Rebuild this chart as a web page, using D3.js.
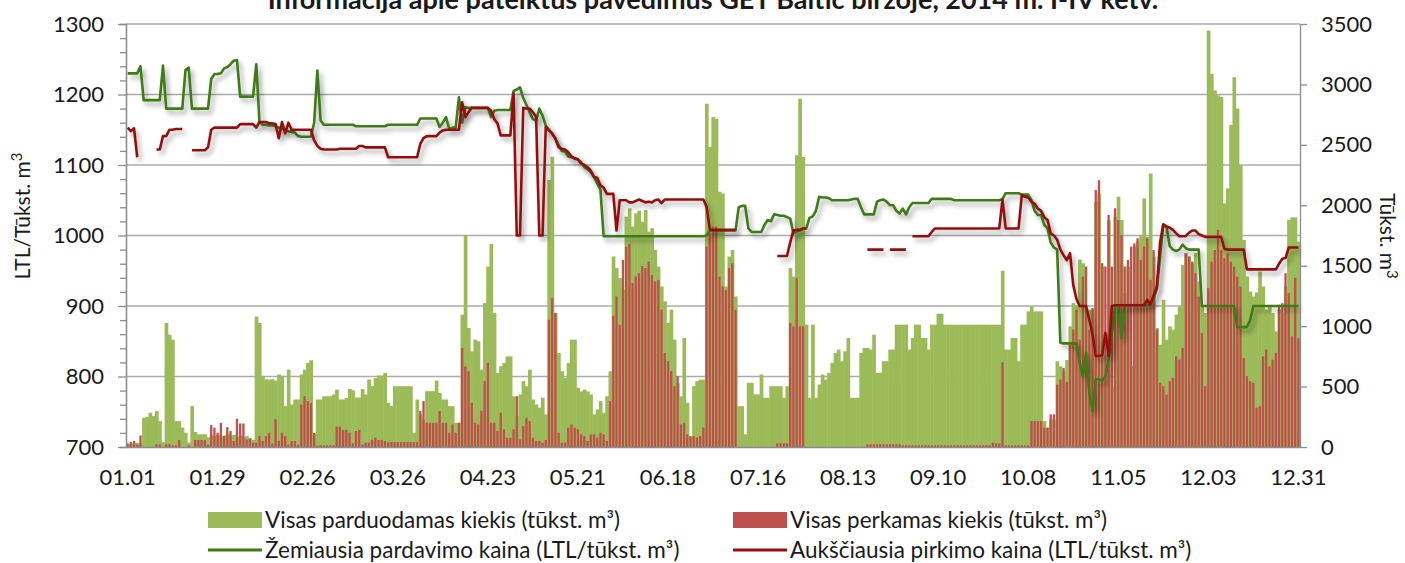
<!DOCTYPE html>
<html>
<head>
<meta charset="utf-8">
<script src="https://cdn.jsdelivr.net/npm/d3@7"></script>
<style>
  body { margin: 0; background: #fff; }
  text { font-family: Lato, "Open Sans", sans-serif; fill: #1a1a1a; }
</style>
</head>
<body>
<svg id="chart" width="1405" height="563"></svg>
<script>
// daily values, 2014-01-01 .. 2014-12-31
var sellVol = [
  20,25,30,35,30,242,250,283,256,297,
  214,40,1026,930,888,214,214,160,118,36,
  338,124,105,105,105,80,95,90,100,85,
  95,110,90,100,85,95,80,90,75,60,
  1080,1026,586,560,558,560,550,600,590,338,
  640,352,393,393,600,640,696,718,110,393,
  393,420,420,420,435,475,393,393,405,480,
  470,410,410,480,435,558,503,570,591,591,
  613,366,338,503,503,503,503,503,503,118,
  393,270,228,462,462,462,550,448,393,393,
  338,338,200,200,1095,1755,985,792,888,875,
  640,1190,1493,1680,1108,613,668,696,750,750,
  420,256,435,545,503,640,393,352,325,407,
  270,2210,2400,1110,778,627,572,696,888,888,
  490,460,475,460,435,270,310,380,283,420,
  627,1576,1480,1397,1300,1906,1975,1823,1933,1955,
  1864,1960,1782,1810,1630,1493,1328,1205,1026,1136,
  888,531,420,902,366,90,503,545,558,558,
  2840,2483,2730,2717,2112,2098,1328,1576,1630,1246,
  338,338,105,531,531,435,435,600,407,407,
  503,503,503,503,407,503,1480,1410,2414,2882,
  2400,1012,407,1012,407,517,600,558,613,696,
  778,806,710,792,902,407,407,407,778,820,
  820,806,930,613,613,710,710,806,806,1012,
  1012,1012,1012,806,902,1012,1012,902,902,806,
  1012,1012,1103,1103,1012,1012,1012,1012,1012,1012,
  1012,1012,1012,1012,1012,1012,1012,1012,1012,1012,
  1012,1012,1458,806,806,902,902,710,1012,1012,
  1122,1163,1122,1122,1122,214,160,228,228,710,
  668,627,720,998,1190,1170,1551,1520,1136,1136,
  1136,2030,2098,1493,765,1878,500,1906,2071,1878,
  1273,1493,670,1658,1700,1755,2057,1740,2263,1576,
  985,847,1218,888,998,971,1095,1163,1507,1603,
  1576,1521,1603,1370,1177,1108,3446,3088,2950,2910,
  2896,2016,2140,2664,3060,2800,2332,1713,1411,1287,
  1246,1279,1452,1328,1136,1163,1108,957,1136,1108,
  1328,1878,1900,1900,1700
];

var buyVol = [
  30,41,50,20,96,0,0,0,0,22,
  22,0,22,22,14,14,58,0,0,14,
  0,58,58,58,58,20,182,160,118,200,
  90,165,132,50,234,195,195,63,68,36,
  36,90,50,90,118,30,228,50,118,90,
  20,50,50,20,352,420,380,365,118,10,
  14,14,14,14,14,168,168,140,140,118,
  30,132,140,20,36,36,60,77,58,58,
  50,40,41,41,41,41,41,41,41,41,
  41,297,380,200,200,200,200,297,200,200,
  118,187,118,200,820,668,627,366,200,187,
  300,545,696,200,200,132,283,146,77,77,
  146,420,63,173,242,214,77,50,50,36,
  58,1053,1232,1108,118,36,36,160,187,160,
  146,105,90,50,105,105,77,118,105,50,
  380,1086,1246,1012,1548,1658,1680,1356,1410,1438,
  1498,1480,1534,1424,1369,1383,1136,778,710,627,
  503,586,187,200,105,90,90,77,90,160,
  1658,1768,1823,1823,1410,1328,1300,1480,1521,1136,
  0,0,0,0,0,0,0,0,0,0,
  0,0,30,30,30,30,1026,998,1397,998,
  998,0,0,0,0,0,0,0,0,0,
  0,0,0,0,0,0,0,0,0,0,
  22,22,22,22,22,22,22,22,22,22,
  22,14,14,14,14,14,14,14,14,14,
  14,14,14,14,14,14,14,14,14,14,
  14,14,14,14,14,14,14,14,14,36,
  30,30,701,14,14,14,14,14,14,14,
  14,214,214,214,214,160,160,270,270,517,
  558,655,540,847,971,1136,888,1410,1493,971,
  1150,2126,2208,1521,1493,1920,1493,1975,1878,1755,
  1493,1548,1658,1685,1727,1548,1658,1727,1383,1630,
  971,531,503,434,545,572,750,723,820,1603,
  1576,1534,1438,1246,943,503,1314,1534,1630,1796,
  1630,1562,1603,1534,1493,1411,1328,737,586,545,
  531,325,338,750,806,668,723,778,1177,1190,
  1438,1273,916,1400,900
];

var sellPrice = [
  1230,1230,1230,1230,1240,1192,1192,1192,1192,1192,
  1192,1241,1180,1180,1180,1180,1180,1180,1235,1238,
  1180,1180,1180,1180,1180,1180,1222,1229,1229,1230,
  1237,1239,1243,1248,1249,1197,1197,1197,1197,1197,
  1243,1161,1157,1157,1156,1156,1155,1153,1151,1150,
  1148,1147,1146,1141,1140,1140,1140,1140,1160,1234,
  1163,1157,1157,1157,1157,1157,1157,1157,1157,1157,
  1157,1155,1155,1155,1155,1155,1155,1155,1155,1155,
  1155,1157,1157,1157,1157,1157,1157,1157,1157,1157,
  1157,1166,1166,1166,1166,1166,1166,1154,1160,1168,
  1151,1153,1153,1196,1160,1182,1181,1181,1181,1181,
  1181,1181,1181,1168,1177,1178,1178,1178,1178,1178,
  1205,1207,1210,1195,1185,1175,1165,1163,1180,1170,
  1156,1150,1144,1138,1128,1120,1119,1112,1111,1110,
  1108,1104,1097,1094,1090,1083,1074,1065,999,999,
  999,999,999,999,999,999,999,999,999,999,
  999,999,999,999,999,999,999,999,999,999,
  999,999,999,999,999,999,999,999,999,999,
  1000,1007,1007,1007,1007,1007,1007,1007,1007,1007,
  1040,1042,1042,1010,1005,1005,1005,1005,1015,1022,
  1020,1030,1029,1028,1028,1026,1024,1003,1006,1007,
  1010,1010,1025,1027,1035,1055,1054,1054,1053,1050,
  1050,1050,1050,1050,1050,1051,1052,1052,1040,1030,
  1030,1030,1030,1048,1050,1051,1048,1043,1043,1035,
  1031,1038,1030,1040,1046,1046,1046,1046,1046,1046,
  1052,1052,1052,1052,1052,1052,1052,1050,1050,1050,
  1050,1050,1050,1050,1050,1050,1050,1050,1050,1050,
  1050,1050,1052,1060,1060,1060,1060,1060,1058,1058,
  1058,1050,1035,1029,1029,1015,1010,990,983,980,
  848,847,847,847,847,847,820,800,834,777,
  751,796,796,794,800,824,860,901,901,854,
  901,901,901,901,901,901,901,901,903,910,
  925,970,1015,1012,985,980,978,980,987,982,
  980,980,980,980,900,900,900,900,900,900,
  900,900,900,900,900,870,870,870,870,880,
  900,900,900,900,900,900,900,900,900,900,
  900,900,900,900,900
];

var buyPrice = [
  1153,1148,1152,1111,null,null,null,null,null,1122,
  1122,1141,1141,1150,1150,1151,1151,1151,null,null,
  1121,1121,1121,1121,1121,1125,1150,1153,1153,1153,
  1153,1153,1153,1153,1153,1158,1158,1158,1158,1158,
  1153,1161,1161,1161,1159,1159,1158,1138,1161,1145,
  1160,1150,1150,1150,1150,1150,1150,1150,1135,1127,
  1123,1122,1122,1122,1122,1122,1123,1123,1123,1123,
  1123,1123,1127,1127,1125,1125,1125,1125,1125,1125,
  1125,1111,1111,1111,1111,1111,1111,1111,1111,1111,
  1111,1130,1138,1141,1141,1141,1141,1146,1149,1150,
  1150,1150,1150,1150,1189,1168,1175,1181,1181,1181,
  1181,1181,1181,1177,1165,1159,1142,1142,1142,1142,
  1201,1000,1000,1181,1180,1180,1175,1168,1000,1000,
  1154,1149,1145,1137,1125,1123,1122,1118,1112,1109,
  1108,1102,1100,1097,1092,1083,1082,1071,1068,1059,
  1059,1059,1007,1050,1050,1050,1047,1047,1049,1051,
  1049,1047,1048,1047,1050,1051,1046,1051,1051,1051,
  1051,1051,1051,1051,1051,1051,1051,1051,1051,1051,
  1041,1009,1008,1008,1008,1008,1008,1008,1008,1008,
  null,null,null,null,null,null,null,null,null,null,
  null,null,971,971,971,971,990,1007,1008,1008,
  1010,1010,null,null,null,null,null,null,null,null,
  null,null,null,null,null,null,null,null,null,null,
  980,980,980,980,980,980,null,980,980,980,
  980,980,980,null,999,999,999,999,999,999,
  1005,1010,1010,1010,1010,1010,1010,1010,1010,1010,
  1010,1010,1010,1010,1010,1010,1010,1010,1010,1010,
  1010,1010,1051,1010,1010,1010,1010,1010,1057,1055,
  1054,1048,1045,1038,1035,1026,1022,1003,1000,994,
  980,972,965,975,930,910,900,900,900,880,
  860,829,829,830,862,829,900,901,901,901,
  901,901,901,901,901,901,901,909,902,915,
  927,990,1016,1013,1011,1008,1003,999,999,999,
  1004,1007,1007,1002,1000,998,998,998,998,998,
  998,981,980,980,980,980,980,980,952,952,
  952,952,952,952,952,952,952,952,960,967,
  968,983,983,983,983
];

var dateLabels = ["01.01","01.29","02.26","03.26","04.23","05.21","06.18",
                  "07.16","08.13","09.10","10.08","11.05","12.03","12.31"];
var priceTicks = [700, 800, 900, 1000, 1100, 1200, 1300];
var volTicks = [0, 500, 1000, 1500, 2000, 2500, 3000, 3500];

var title = "Informacija apie pateiktus pavedimus GET Baltic biržoje, 2014 m. I-IV ketv.";
var legendItems = [
  {name: "Visas parduodamas kiekis (tūkst. m³)", type: "bar", color: "#9BBB59"},
  {name: "Visas perkamas kiekis (tūkst. m³)", type: "bar", color: "#C0504D"},
  {name: "Žemiausia pardavimo kaina (LTL/tūkst. m³)", type: "line", color: "#3E7B13"},
  {name: "Aukščiausia pirkimo kaina (LTL/tūkst. m³)", type: "line", color: "#950F0F"}
];

var plotL = 126, plotR = 1300, plotT = 24, plotB = 447;

var svg = d3.select("#chart");

var days = d3.range(sellVol.length);

var x = d3.scaleBand().domain(days).range([plotL, plotR]).padding(0);
var bw = x.bandwidth();
var yL = d3.scaleLinear().domain([700, 1300]).range([plotB, plotT]);
var yR = d3.scaleLinear().domain([0, 3500]).range([plotB, plotT]);

// shadow for the price lines
var defs = svg.append("defs");
var f = defs.append("filter").attr("id", "shadow")
  .attr("x", "-5%").attr("y", "-20%").attr("width", "110%").attr("height", "140%");
f.append("feDropShadow").attr("dx", 3).attr("dy", 4).attr("stdDeviation", 2.5)
  .attr("flood-color", "#000").attr("flood-opacity", 0.35);

// title (cut by the top edge)
svg.append("text")
  .attr("x", (plotL + plotR) / 2).attr("y", 9)
  .attr("text-anchor", "middle")
  .style("font-size", "27px").style("font-weight", "bold")
  .text(title);

// gridlines
svg.append("g").selectAll("line")
  .data(priceTicks.slice(1)).enter().append("line")
  .attr("x1", plotL).attr("x2", plotR)
  .attr("y1", d => yL(d)).attr("y2", d => yL(d))
  .attr("stroke", "#ababab").attr("stroke-width", 1.3);

// bars
svg.append("g").selectAll("rect")
  .data(sellVol).enter().append("rect")
  .attr("x", (d, i) => x(i))
  .attr("width", bw + 0.5)
  .attr("y", d => yR(d))
  .attr("height", d => plotB - yR(d))
  .attr("fill", "#9BBB59");

svg.append("g").selectAll("rect")
  .data(buyVol).enter().append("rect")
  .attr("x", (d, i) => x(i) + bw * 0.14)
  .attr("width", bw * 0.72)
  .attr("y", d => yR(d))
  .attr("height", d => plotB - yR(d))
  .attr("fill", "#C0504D");

// price lines
var line = d3.line()
  .defined(d => d != null)
  .x((d, i) => x(i) + bw / 2)
  .y(d => yL(d));

svg.append("path").datum(sellPrice)
  .attr("d", line).attr("fill", "none")
  .attr("stroke", legendItems[2].color).attr("stroke-width", 2.6)
  .attr("stroke-linejoin", "round")
  .attr("filter", "url(#shadow)");

svg.append("path").datum(buyPrice)
  .attr("d", line).attr("fill", "none")
  .attr("stroke", legendItems[3].color).attr("stroke-width", 2.6)
  .attr("stroke-linejoin", "round")
  .attr("filter", "url(#shadow)");

// axes
function styleAxis(g) {
  g.select(".domain").attr("stroke", "#8c8c8c").attr("stroke-width", 1.3);
  g.selectAll(".tick line").attr("stroke", "#8c8c8c").attr("stroke-width", 1.3);
  g.selectAll(".tick text").style("font-size", "22px").style("font-family", "Lato, sans-serif").attr("fill", "#1a1a1a");
}

var minor = d3.range(700, 1301, 20).filter(v => v % 100 !== 0);
svg.append("g").attr("transform", "translate(" + plotL + ",0)")
  .call(d3.axisLeft(yL).tickValues(minor).tickSize(6).tickFormat(""))
  .call(styleAxis);
svg.append("g").attr("transform", "translate(" + plotL + ",0)")
  .call(d3.axisLeft(yL).tickValues(priceTicks).tickSize(8).tickPadding(14)
    .tickSizeOuter(0).tickFormat(d3.format("d")))
  .call(styleAxis);

svg.append("g").attr("transform", "translate(" + plotR + ",0)")
  .call(d3.axisRight(yR).tickValues(volTicks).tickSize(7).tickPadding(14)
    .tickSizeOuter(0).tickFormat(d3.format("d")))
  .call(styleAxis);

svg.append("g").attr("transform", "translate(0," + plotB + ")")
  .call(d3.axisBottom(x).tickValues(dateLabels.map((d, k) => k * 28))
    .tickFormat((d) => dateLabels[d / 28]).tickSize(0).tickPadding(22).tickSizeOuter(0))
  .call(styleAxis);

// axis titles
var lt = svg.append("text")
  .attr("transform", "translate(30,216) rotate(-90)")
  .attr("text-anchor", "middle")
  .style("font-size", "21px");
lt.append("tspan").text("LTL/Tūkst. m");
lt.append("tspan").attr("dy", -8).style("font-size", "15px").text("3");

var rt = svg.append("text")
  .attr("transform", "translate(1380,236) rotate(90)")
  .attr("text-anchor", "middle")
  .style("font-size", "21px");
rt.append("tspan").text("Tūkst. m");
rt.append("tspan").attr("dy", -7).style("font-size", "15px").text("3");

// legend
var lg = svg.append("g").selectAll("g")
  .data(legendItems).enter().append("g")
  .attr("transform", (d, i) => "translate(" + (i % 2 ? 733 : 208) + "," + (i < 2 ? 520 : 550) + ")");

lg.filter(d => d.type === "bar").append("rect")
  .attr("x", 0).attr("y", -8).attr("width", 54).attr("height", 16)
  .attr("fill", d => d.color);
lg.filter(d => d.type === "line").append("line")
  .attr("x1", 0).attr("x2", 54).attr("y1", 0).attr("y2", 0)
  .attr("stroke", d => d.color).attr("stroke-width", 3);
lg.append("text")
  .attr("x", 57).attr("y", 0).attr("dy", "0.35em")
  .style("font-size", "22.5px")
  .text(d => d.name);
</script>
</body>
</html>
